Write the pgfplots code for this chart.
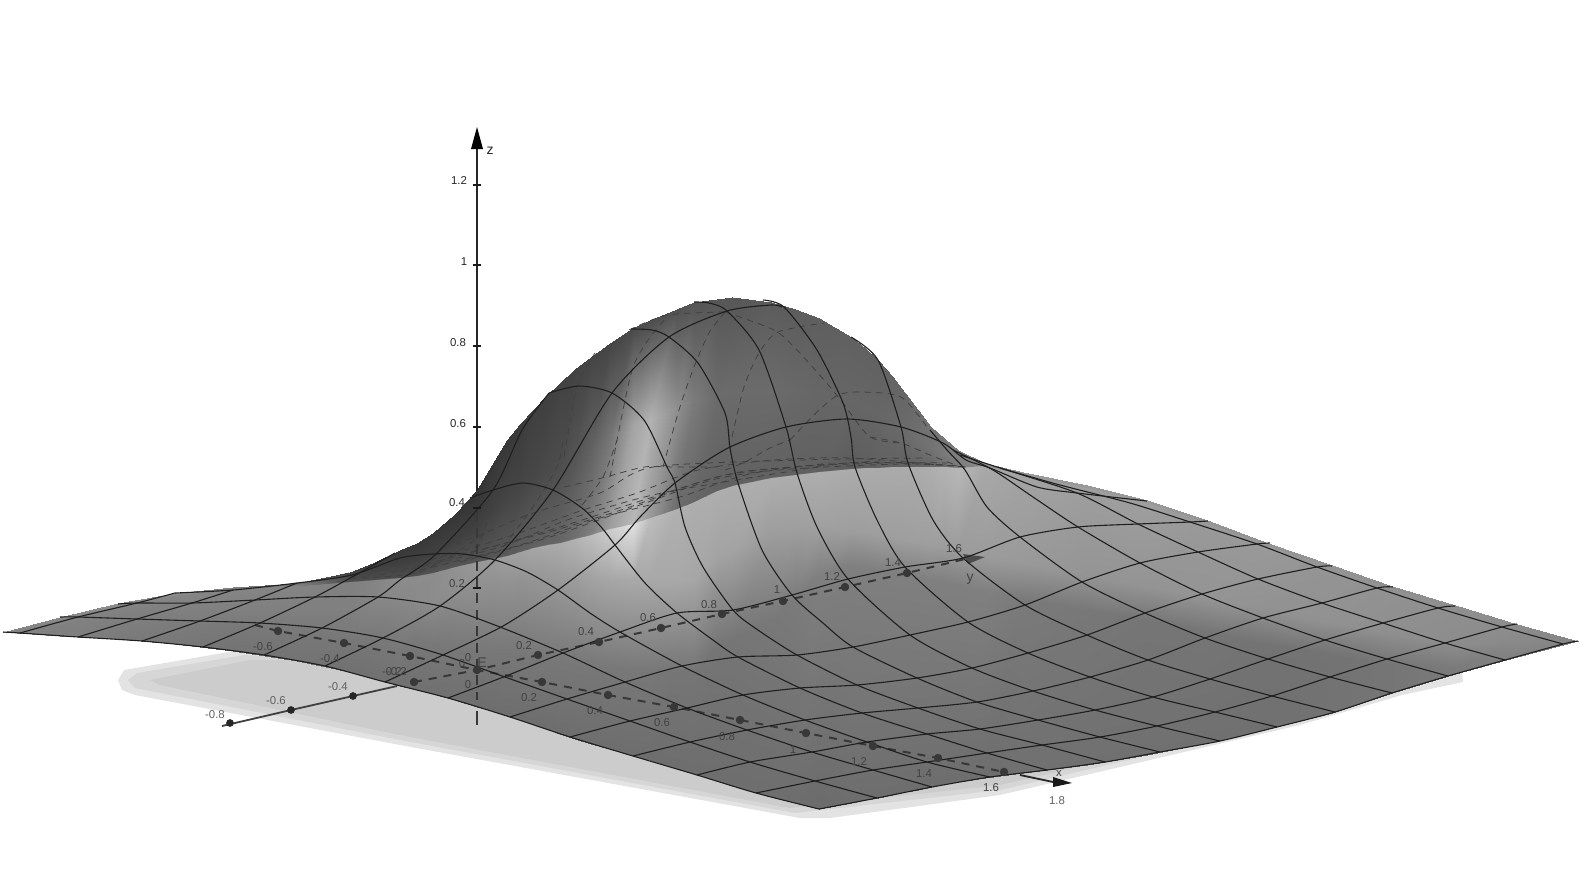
\documentclass[border=0pt]{standalone}
\usepackage{pgfplots}
\pgfplotsset{compat=1.18}
\usepackage{fontspec}
\setmainfont{Liberation Sans}
\pgfplotsset{
  sol/.style={no marks,smooth,tension=0.45,line width=0.55pt,color=black!88},
  das/.style={no marks,smooth,tension=0.45,line width=0.38pt,color=black!75,dash pattern=on 3.2pt off 2.6pt},
}
\tikzset{
  lab/.style={font=\fontsize{5.7}{6}\selectfont,text=black!62,inner sep=0pt},
  labs/.style={font=\fontsize{5.7}{6}\selectfont,text=black!74,inner sep=0pt},
  labk/.style={font=\fontsize{5.7}{6}\selectfont,text=black!85,inner sep=0pt},
}
\begin{document}
\begin{tikzpicture}
\path[use as bounding box] (0,0) rectangle (791pt,434pt);
\begin{axis}[
  at={(0,0)},anchor=south west,scale only axis,width=791pt,height=434pt,
  xmin=0,xmax=1582,ymin=0,ymax=868,y dir=reverse,axis lines=none,
  colormap={bw}{gray(0cm)=(0);gray(1cm)=(1)},point meta min=0,point meta max=1,
]
% shadow
\addplot[fill=black!11,draw=none] coordinates {(240,650)(124,670)(118,680)(122,690)(135,695)(400,745)(800,818)(830,818)(1000,795)(1300,725)(1402,695)(1463,682)(1462,672)(1000,700)(400,670)} --cycle;
\addplot[fill=black!16,draw=none] coordinates {(245,655)(137,673)(128,680)(135,688)(400,740)(795,813)(1000,790)(1300,720)(1430,680)(400,665)} --cycle;
\addplot[fill=black!20,draw=none] coordinates {(250,660)(150,680)(160,685)(400,735)(790,808)(1000,785)(1300,715)(1400,680)(400,660)} --cycle;
% z axis, part behind the surface
\addplot[no marks,line width=1.1pt,color=black!85] coordinates {(477,145)(477,495)};
% surface shading, column by column
\addplot[surf,shader=interp,mesh/cols=7,point meta=explicit] table[x=x,y=y,meta=c] {
x y c
3 632 .52
3 632 .52
3 632 .52
3 632 .52
3 632 .52
3 632 .52
3 632 .52
60 617 .54
60 618 .54
60 619 .54
60 620 .52
60 626 .5
60 631 .5
60 636 .5
118 603 .55
118 604 .55
118 605 .55
118 606 .52
118 615 .5
118 628 .49
118 639 .48
175 593 .55
175 594 .55
175 595 .55
175 596 .52
175 610 .5
175 628 .48
175 644 .47
233 587 .5
233 588 .5
233 589 .5
233 590 .52
233 610 .5
233 630 .47
233 651 .45
297 583 .4
297 584 .45
297 585 .5
297 586 .52
297 610 .5
297 635 .47
297 661 .45
350 572 .25
350 576 .28
350 581 .3
350 582 .5
350 610 .5
350 640 .47
350 672 .44
375 562 .23
375 570 .26
375 579 .3
375 580 .52
375 605 .52
375 640 .47
375 679 .44
400 550 .22
400 563 .25
400 577 .3
400 578 .55
400 600 .53
400 640 .48
400 686 .44
417 543 .22
417 559 .25
417 575 .31
417 576 .55
417 600 .54
417 642 .47
417 690 .44
433 533 .22
433 552 .25
433 572 .32
433 573 .55
433 600 .55
433 645 .47
433 694 .44
455 514 .21
455 539 .25
455 566 .33
455 567 .57
455 595 .55
455 648 .47
455 700 .44
477 490 .2
477 525 .25
477 561 .33
477 562 .6
477 590 .56
477 650 .47
477 707 .43
492 465 .21
492 511 .26
492 558 .34
492 559 .6
492 588 .56
492 650 .47
492 711 .43
507 440 .22
507 497 .27
507 555 .35
507 556 .62
507 585 .57
507 650 .47
507 716 .43
520 424 .23
520 487 .27
520 551 .37
520 552 .63
520 582 .57
520 652 .47
520 720 .43
533 410 .25
533 478 .28
533 547 .38
533 548 .65
533 580 .58
533 655 .47
533 724 .43
547 395 .25
547 469 .29
547 544 .39
547 545 .66
547 580 .59
547 657 .47
547 729 .43
560 383 .26
560 462 .3
560 542 .4
560 543 .67
560 580 .6
560 660 .47
560 734 .43
575 369 .26
575 454 .33
575 538 .44
575 539 .7
575 580 .61
575 662 .47
575 739 .43
591 357 .27
591 447 .38
591 534 .5
591 535 .74
591 580 .63
591 665 .47
591 744 .43
610 343 .27
610 436 .46
610 528 .62
610 529 .8
610 580 .65
610 668 .47
610 749 .43
633 328 .29
633 425 .64
633 523 .72
633 524 .88
633 580 .66
633 670 .47
633 756 .43
650 320 .3
650 420 .7
650 517 .6
650 518 .74
650 580 .66
650 670 .47
650 760 .43
677 309 .32
677 408 .56
677 508 .42
677 509 .69
677 580 .66
677 672 .46
677 769 .43
694 302 .33
694 400 .48
694 501 .4
694 502 .68
694 580 .65
694 672 .46
694 774 .43
717 299 .34
717 395 .42
717 490 .38
717 491 .68
717 555 .64
717 645 .46
717 781 .43
732 297 .34
732 390 .42
732 485 .38
732 486 .68
732 550 .64
732 640 .46
732 786 .43
771 302 .36
771 390 .42
771 477 .38
771 478 .68
771 530 .62
771 620 .47
771 797 .43
795 309 .36
795 392 .41
795 474 .38
795 475 .68
795 528 .62
795 600 .48
795 803 .43
819 318 .37
819 395 .4
819 471 .38
819 472 .68
819 525 .63
819 575 .5
819 809 .42
851 337 .38
851 402 .4
851 468 .36
851 469 .67
851 530 .62
851 565 .5
851 803 .43
865 348 .38
865 407 .4
865 467 .37
865 468 .67
865 532 .62
865 567 .5
865 800 .43
878 360 .38
878 413 .4
878 467 .38
878 468 .67
878 535 .62
878 570 .5
878 798 .43
892 376 .39
892 421 .41
892 466 .38
892 467 .67
892 537 .62
892 572 .5
892 795 .43
905 393 .4
905 430 .42
905 466 .38
905 467 .67
905 540 .62
905 575 .5
905 792 .43
918 410 .42
918 438 .44
918 466 .39
918 467 .67
918 542 .62
918 577 .5
918 790 .43
931 427 .45
931 447 .45
931 466 .4
931 467 .68
931 545 .62
931 580 .5
931 787 .43
945 439 .47
945 453 .48
945 466 .44
945 467 .7
945 547 .61
945 582 .5
945 784 .43
958 450 .5
958 458 .5
958 467 .48
958 468 .72
958 550 .61
958 585 .5
958 782 .43
985 463 .55
985 464 .55
985 465 .55
985 466 .66
985 556 .61
985 591 .5
985 778 .43
1023 472 .6
1023 473 .6
1023 474 .6
1023 475 .64
1023 563 .6
1023 598 .48
1023 773 .44
1087 485 .6
1087 486 .6
1087 487 .6
1087 488 .62
1087 575 .58
1087 610 .47
1087 765 .44
1147 500 .6
1147 501 .6
1147 502 .6
1147 503 .62
1147 586 .58
1147 620 .46
1147 755 .44
1207 520 .58
1207 521 .58
1207 522 .58
1207 523 .6
1207 598 .58
1207 632 .46
1207 743 .44
1268 543 .58
1268 544 .58
1268 545 .58
1268 546 .6
1268 610 .57
1268 645 .45
1268 729 .44
1332 565 .58
1332 566 .58
1332 567 .58
1332 568 .58
1332 622 .57
1332 655 .45
1332 713 .45
1392 586 .56
1392 587 .56
1392 588 .56
1392 589 .57
1392 633 .56
1392 665 .46
1392 693 .46
1455 605 .56
1455 606 .56
1455 607 .56
1455 608 .56
1455 645 .55
1455 668 .48
1455 674 .48
1517 624 .55
1517 625 .55
1517 626 .55
1517 627 .55
1517 640 .54
1517 650 .52
1517 657 .5
1578 641 .52
1578 641 .52
1578 641 .52
1578 641 .52
1578 641 .52
1578 641 .52
1578 641 .52
};
% dashed lines on the far side of the hump
\addplot[das] coordinates {(564,487)(602,478)(644,467)(675,467)(717,467)};
\addplot[das] coordinates {(564,457)(577,387)(595,353)};
\addplot[das] coordinates {(610,477)(623,410)(633,367)(648,340)(667,317)};
\addplot[das] coordinates {(663,467)(679,410)(694,367)(709,333)(725,312)};
\addplot[das] coordinates {(732,437)(744,387)(759,353)(778,332)(824,323)};
\addplot[das] coordinates {(790,440)(816,413)(838,395)(862,392)(901,397)(927,427)};
\addplot[das] coordinates {(725,312)(774,330)(797,350)(824,380)(843,403)(870,437)(901,443)};
\addplot[das] coordinates {(629,330)(667,315)(725,312)};
\addplot[das] coordinates {(430,560)(507,537)(583,510)(637,493)(698,470)(774,460)(851,458)(966,467)};
\addplot[das] coordinates {(449,557)(545,533)(621,510)(717,477)(794,467)(889,463)(966,467)};
\addplot[das] coordinates {(400,572)(500,547)(567,520)(633,500)(677,490)(780,473)(847,463)(947,463)};
\addplot[das] coordinates {(400,560)(467,540)(533,513)(600,493)(653,467)(800,460)(923,458)};
\addplot[das] coordinates {(420,570)(520,545)(600,518)(680,497)(760,472)(900,464)(960,466)};
\addplot[das] coordinates {(460,562)(550,537)(640,505)(720,478)(830,463)};
\addplot[das] coordinates {(380,575)(470,553)(560,527)(650,498)(740,472)(880,461)};
\addplot[das] coordinates {(477,550)(493,507)(507,473)(515,447)};
\addplot[das] coordinates {(503,547)(533,507)(557,467)(563,440)};
\addplot[das] coordinates {(582,505)(603,477)(617,440)};
\addplot[das] coordinates {(320,580)(400,560)(440,545)(470,520)};
\addplot[das] coordinates {(350,578)(420,572)(490,530)};
\addplot[das] coordinates {(725,470)(745,462)(770,448)(790,440)};
\addplot[das] coordinates {(870,437)(901,443)(930,455)(958,466)};
% z axis in front part
\addplot[no marks,line width=1.2pt,color=black!78,dash pattern=on 5pt off 3.2pt] coordinates {(477,495)(477,700)};
\addplot[no marks,line width=1.2pt,color=black!78] coordinates {(477,711)(477,725)};
% x axis
\addplot[no marks,line width=1pt,color=black!78,dash pattern=on 4pt off 3.5pt] coordinates {(255,625)(278,631)(344,643)(410,656)(477,670)(542,682)(608,695)(674,707)(740,720)(806,733)(873,746)(938,758)(1004,772)};
\addplot[no marks,line width=0.9pt,color=black!85] coordinates {(1020,775)(1058,783)};
\addplot[fill=black!90,draw=none] coordinates {(1053,777)(1072,783)(1053,787)} --cycle;
% y axis
\addplot[no marks,line width=1pt,color=black!78,dash pattern=on 4pt off 3.5pt] coordinates {(414,682)(477,670)(538,655)(599,642)(661,628)(722,614)(783,601)(845,587)(907,573)(965,559)};
\addplot[no marks,line width=0.9pt,color=black!75] coordinates {(222,726)(291,710)(353,696)(397,686)};
\addplot[fill=black!70,draw=none] coordinates {(963,554)(985,557)(968,564)} --cycle;
\addplot[fill=black,draw=none] coordinates {(477,127)(471,149)(483,149)} --cycle;
% dots
\addplot[only marks,mark=*,mark size=1.9pt,color=black!78] coordinates {(278,631)(344,643)(410,656)(477,670)(542,682)(608,695)(674,707)(740,720)(806,733)(873,746)(938,758)(1004,772)(414,682)(538,655)(599,642)(661,628)(722,614)(783,601)(845,587)(907,573)};
\addplot[only marks,mark=*,mark size=1.7pt,color=black!85] coordinates {(353,696)(291,710)(230,723)};
\addplot[only marks,mark=-,mark size=2pt,line width=1.4pt,color=black!90] coordinates {(477,185)(477,265)(477,346)(477,427)(477,508)(477,588)};
% mesh lines of one family
\addplot[sol] coordinates {(20,633)(78,617)(137,603)(175,593)};
\addplot[sol] coordinates {(78,637)(137,619)(192,603)(233,590)};
\addplot[sol] coordinates {(142,641)(200,621)(255,600)(297,583)};
\addplot[sol] coordinates {(203,647)(260,623)(315,597)(352,577)(395,553)};
\addplot[sol] coordinates {(264,655)(322,628)(378,597)(400,580)(435,555)(493,490)(522,430)(549,393)};
\addplot[sol] coordinates {(325,666)(383,638)(440,606)(495,560)(553,490)(612,393)(669,337)(727,311)(771,305)(782,307)};
\addplot[sol] coordinates {(385,682)(443,655)(503,626)(558,590)(615,545)(640,517)(675,483)(728,448)(786,427)(847,419)(901,427)(943,443)(966,460)(990,468)(1037,487)(1077,493)(1147,501)};
\addplot[sol] coordinates {(448,698)(506,676)(563,653)(620,632)(677,613)(733,610)(792,595)(848,579)(905,567)(963,558)(1020,537)(1078,527)(1138,524)(1190,522)(1208,521)};
\addplot[sol] coordinates {(510,717)(567,699)(625,682)(682,666)(738,657)(797,655)(853,647)(910,635)(968,622)(1025,605)(1082,582)(1140,563)(1198,552)(1257,544)(1270,543)};
\addplot[sol] coordinates {(570,737)(630,721)(687,708)(743,695)(800,688)(857,685)(917,678)(972,668)(1028,653)(1087,635)(1145,613)(1202,594)(1258,579)(1317,567)(1332,566)};
\addplot[sol] coordinates {(633,756)(690,742)(747,730)(805,720)(862,713)(918,708)(977,702)(1033,691)(1090,677)(1148,660)(1205,638)(1263,618)(1322,603)(1377,588)(1393,587)};
\addplot[sol] coordinates {(697,775)(750,762)(812,752)(867,742)(927,734)(980,729)(1038,720)(1095,710)(1153,697)(1210,679)(1268,659)(1325,640)(1383,623)(1438,608)(1455,606)};
\addplot[sol] coordinates {(756,793)(815,781)(873,770)(927,762)(987,753)(1042,745)(1100,737)(1157,726)(1215,712)(1272,696)(1330,677)(1387,659)(1445,643)(1502,627)(1517,624)};
% mesh lines of the other family
\addplot[sol] coordinates {(3,632)(20,633)(78,637)(142,641)(203,647)(264,655)(325,666)(385,682)(448,698)(510,717)(570,737)(633,756)(697,775)(756,793)(819,809)};
\addplot[sol] coordinates {(60,617)(78,617)(137,619)(200,621)(260,623)(322,628)(383,638)(443,655)(505,677)(567,699)(630,721)(690,742)(750,762)(815,781)(877,798)};
\addplot[sol] coordinates {(118,604)(137,603)(192,603)(255,600)(315,597)(378,597)(440,606)(500,627)(563,653)(625,682)(687,708)(747,730)(812,752)(873,770)(932,787)};
\addplot[sol] coordinates {(175,593)(233,590)(297,583)(352,575)(400,558)(433,554)(463,554)(495,560)(527,572)(558,590)(590,613)(620,632)(682,666)(743,695)(805,720)(867,742)(927,762)(990,777)};
\addplot[sol] coordinates {(470,498)(493,490)(523,483)(553,490)(582,508)(602,528)(615,545)(645,583)(677,613)(713,640)(738,657)(800,688)(862,713)(927,734)(987,753)(1047,770)};
\addplot[sol] coordinates {(549,393)(579,386)(612,393)(644,420)(667,467)(675,483)(685,527)(703,567)(733,610)(755,628)(797,655)(857,685)(918,708)(980,729)(1042,745)(1105,762)};
\addplot[sol] coordinates {(631,329)(652,330)(669,337)(698,363)(725,413)(730,448)(738,483)(762,550)(792,595)(823,623)(853,647)(917,678)(977,702)(1038,720)(1100,737)(1160,752)};
\addplot[sol] coordinates {(694,302)(709,303)(727,311)(759,350)(786,427)(797,473)(817,527)(848,579)(910,635)(972,668)(1033,691)(1095,710)(1157,726)(1220,741)};
\addplot[sol] coordinates {(763,300)(784,307)(817,350)(843,403)(851,437)(855,467)(877,520)(905,567)(968,622)(1028,653)(1090,677)(1153,697)(1215,712)(1277,727)};
\addplot[sol] coordinates {(851,337)(878,360)(901,427)(908,463)(933,520)(963,558)(1025,605)(1087,635)(1148,660)(1210,679)(1272,696)(1335,712)};
\addplot[sol] coordinates {(930,430)(947,450)(965,470)(987,507)(1020,537)(1082,582)(1145,613)(1205,638)(1268,659)(1330,677)(1392,693)};
\addplot[sol] coordinates {(953,450)(993,470)(1033,497)(1078,527)(1140,563)(1202,594)(1263,618)(1325,640)(1387,659)(1448,676)};
\addplot[sol] coordinates {(960,455)(997,467)(1077,493)(1138,524)(1198,552)(1258,579)(1322,603)(1383,623)(1445,643)(1505,660)};
\addplot[sol] coordinates {(1000,468)(1060,485)(1130,503)(1190,522)(1257,544)(1317,567)(1377,588)(1438,608)(1502,627)(1563,644)};
\addplot[sol] coordinates {(819,809)(877,798)(932,787)(990,777)(1047,770)(1105,762)(1160,752)(1220,741)(1277,727)(1335,712)(1392,693)(1448,676)(1505,660)(1563,644)(1578,641)};
% labels
\node[labk] at (axis cs:490,151) {\fontsize{7}{8}\selectfont z};
\node[labk] at (axis cs:459,181) {1.2};
\node[labk] at (axis cs:464,262) {1};
\node[labk] at (axis cs:458,343) {0.8};
\node[labk] at (axis cs:458,424) {0.6};
\node[labk] at (axis cs:457,503) {0.4};
\node[labs] at (axis cs:457,584) {0.2};
\node[labs] at (axis cs:529,698) {0.2};
\node[labs] at (axis cs:595,711) {0.4};
\node[labs] at (axis cs:662,723) {0.6};
\node[labs] at (axis cs:727,737) {0.8};
\node[labs] at (axis cs:793,750) {1};
\node[labs] at (axis cs:859,762) {1.2};
\node[labs] at (axis cs:924,774) {1.4};
\node[labs] at (axis cs:991,788) {1.6};
\node[lab] at (axis cs:1057,801) {1.8};
\node[labs] at (axis cs:1059,773) {x};
\node[labs] at (axis cs:263,647) {-0.6};
\node[labs] at (axis cs:330,659) {-0.4};
\node[labs] at (axis cs:397,672) {-0.2};
\node[labs] at (axis cs:392,672) {-0.2};
\node[labs] at (axis cs:468,685) {0};
\node[labs] at (axis cs:468,658) {0};
\node[labs] at (axis cs:462,664) {0};
\node[labs] at (axis cs:482,663) {\fontsize{7}{8}\selectfont E};
\node[labs] at (axis cs:524,646) {0.2};
\node[labs] at (axis cs:586,632) {0.4};
\node[labs] at (axis cs:648,618) {0.6};
\node[labs] at (axis cs:709,605) {0.8};
\node[labs] at (axis cs:777,590) {1};
\node[labs] at (axis cs:832,577) {1.2};
\node[labs] at (axis cs:893,563) {1.4};
\node[labs] at (axis cs:954,549) {1.6};
\node[labs] at (axis cs:970,579) {\fontsize{7}{8}\selectfont y};
\node[lab] at (axis cs:338,687) {-0.4};
\node[lab] at (axis cs:276,701) {-0.6};
\node[lab] at (axis cs:215,715) {-0.8};
\end{axis}
\end{tikzpicture}
\end{document}
